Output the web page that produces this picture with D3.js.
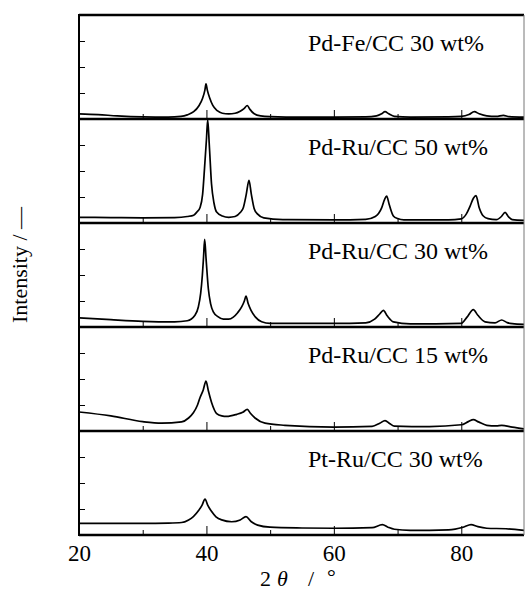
<!DOCTYPE html>
<html>
<head>
<meta charset="utf-8">
<script src="https://cdn.jsdelivr.net/npm/d3@7"></script>
<style>
  html, body { margin: 0; padding: 0; background: #fff; }
  svg { display: block; font-family: "Liberation Serif", "Times New Roman", serif; }
  .trace { fill: none; stroke: #000; stroke-width: 1.7; stroke-linejoin: round; }
  .tick line { stroke: #000; stroke-width: 1; }
  .tick text { font-family: "Liberation Serif", "Times New Roman", serif; font-size: 23px; fill: #000; }
</style>
</head>
<body>
<svg id="xrd" width="525" height="592"></svg>
<script>
// ---- data: [2theta, intensity] (tick units, 0..4 per panel) ----
const pdFe30 = [
  [20,0.2],[23,0.17],[26,0.12],[30,0.08],[34,0.07],[36,0.1],[37,0.16],[38,0.28],[38.8,0.5],
  [39.4,0.8],[39.75,1.1],[39.93,1.35],[40.15,1.1],[40.5,0.82],[41,0.52],[41.7,0.32],[42.5,0.22],
  [43.5,0.2],[44.5,0.22],[45.3,0.3],[45.9,0.4],[46.42,0.52],[46.8,0.38],[47.5,0.2],[48.5,0.12],
  [50,0.09],[55,0.07],[60,0.07],[65,0.08],[66.7,0.12],[67.5,0.2],[68.03,0.28],[68.6,0.2],
  [69.5,0.1],[72,0.07],[78,0.08],[80,0.1],[81.2,0.17],[82.05,0.28],[82.8,0.2],[84,0.12],
  [85.5,0.1],[86.6,0.14],[87.5,0.09],[90,0.07]
];
const pdRu50 = [
  [20,0.22],[25,0.21],[30,0.2],[35,0.21],[37,0.25],[38,0.3],[38.5,0.42],[39,0.6],[39.4,1.1],
  [39.7,2.1],[40,3.2],[40.2,3.97],[40.45,3.0],[40.8,1.5],[41.2,0.75],[41.6,0.42],[42.5,0.27],
  [43.5,0.22],[44.5,0.25],[45.3,0.4],[45.8,0.6],[46.25,1.1],[46.68,1.64],[47.05,1.1],[47.5,0.55],
  [48,0.35],[49,0.2],[52,0.13],[60,0.12],[65,0.14],[66.5,0.25],[67.5,0.58],[67.95,0.9],
  [68.29,1.03],[68.7,0.7],[69.34,0.27],[70,0.17],[71,0.12],[78,0.12],[80,0.16],[80.8,0.35],
  [81.37,0.64],[81.9,0.95],[82.31,1.05],[82.8,0.6],[83.46,0.27],[84.2,0.17],[85.5,0.13],
  [86.3,0.25],[86.87,0.41],[87.4,0.24],[88,0.13],[90,0.1]
];
const pdRu30 = [
  [20,0.35],[25,0.28],[30,0.22],[35,0.2],[37,0.24],[38.2,0.45],[38.73,0.77],[39.1,1.3],[39.36,1.99],
  [39.55,2.7],[39.72,3.37],[39.95,2.6],[40.3,1.47],[40.65,0.9],[41.08,0.58],[41.8,0.4],[42.65,0.3],
  [43.5,0.3],[44.22,0.38],[44.9,0.55],[45.53,0.77],[45.95,1.0],[46.21,1.19],[46.55,0.9],[47,0.64],
  [47.7,0.38],[48.67,0.2],[50,0.14],[60,0.14],[65,0.16],[66.4,0.3],[67.2,0.5],[67.77,0.64],
  [68.4,0.42],[69.34,0.2],[72,0.12],[80,0.14],[80.9,0.38],[81.89,0.67],[82.6,0.45],[83.73,0.2],
  [85.3,0.16],[86.34,0.27],[87.2,0.17],[88,0.13],[90,0.1]
];
const pdRu15 = [
  [20,0.73],[25,0.58],[30,0.36],[32.97,0.3],[36.1,0.35],[37.2,0.5],[37.95,0.7],[38.6,1.0],
  [38.99,1.28],[39.5,1.58],[39.93,1.92],[40.3,1.55],[40.82,1.09],[41.61,0.67],[42.4,0.58],
  [43.18,0.56],[44.75,0.64],[45.7,0.72],[46.42,0.83],[46.9,0.68],[47.63,0.5],[49.19,0.3],
  [52.33,0.22],[60,0.15],[66,0.18],[67.2,0.3],[68.03,0.4],[68.8,0.28],[69.5,0.19],[75,0.17],
  [80,0.24],[81.1,0.36],[81.89,0.44],[82.7,0.35],[84,0.22],[85.5,0.2],[86.34,0.22],[88,0.15],
  [90,0.08]
];
const ptRu30 = [
  [20,0.45],[25,0.45],[30,0.45],[34,0.46],[36.1,0.48],[37.2,0.58],[37.95,0.71],[38.8,0.95],
  [39.3,1.14],[39.78,1.38],[40.2,1.15],[40.82,0.9],[41.5,0.7],[42.39,0.58],[43.96,0.51],
  [45.3,0.58],[46.21,0.71],[47,0.52],[48.04,0.38],[49.98,0.3],[55,0.27],[60,0.26],[66,0.28],
  [67.61,0.4],[68.5,0.3],[69.5,0.22],[72,0.18],[78,0.2],[80.3,0.3],[81.53,0.4],[82.6,0.32],
  [84,0.26],[87,0.24],[90,0.17]
];
const samples = [pdFe30, pdRu50, pdRu30, pdRu15, ptRu30];
const sampleLabels = ["Pd-Fe/CC 30 wt%", "Pd-Ru/CC 50 wt%", "Pd-Ru/CC 30 wt%", "Pd-Ru/CC 15 wt%", "Pt-Ru/CC 30 wt%"];
const xMajor = [20, 40, 60, 80];
const xMinor = [30, 50, 70];
const yTicks = [1, 2, 3];

// ---- layout ----
const svg = d3.select("#xrd");
const plotL = 79, plotR = 524, plotT = 15, panelH = 104;
const plotB = plotT + panelH * samples.length;
const serif = '"Liberation Serif", "Times New Roman", serif';

const x = d3.scaleLinear().domain([20, 90]).range([plotL, 525]);
const y = d3.scaleLinear().domain([0, 4]).range([panelH, 0]);

svg.append("defs").append("clipPath").attr("id", "panelClip")
  .append("rect").attr("x", plotL).attr("y", 0).attr("width", plotR - plotL).attr("height", panelH);

const line = d3.line().x(d => x(d[0])).y(d => y(d[1])).curve(d3.curveMonotoneX);

samples.forEach((s, i) => {
  const g = svg.append("g").attr("transform", `translate(0,${plotT + i * panelH})`);

  // inward ticks on bottom edge
  g.append("g").attr("transform", `translate(0,${panelH})`)
    .call(d3.axisTop(x).tickValues(xMajor).tickSize(9).tickFormat(""))
    .call(a => a.select(".domain").remove());
  g.append("g").attr("transform", `translate(0,${panelH})`)
    .call(d3.axisTop(x).tickValues(xMinor).tickSize(5).tickFormat(""))
    .call(a => a.select(".domain").remove());

  // inward ticks on left edge
  g.append("g").attr("transform", `translate(${plotL},0)`)
    .call(d3.axisRight(y).tickValues(yTicks).tickSize(6).tickFormat(""))
    .call(a => a.select(".domain").remove());

  g.append("path").datum(s).attr("class", "trace")
    .attr("clip-path", "url(#panelClip)")
    .attr("d", line);

  g.append("text").attr("x", 308).attr("y", 36)
    .attr("font-size", 24).text(sampleLabels[i]);

  // panel separator
  g.append("line").attr("x1", plotL).attr("x2", plotR)
    .attr("y1", panelH).attr("y2", panelH)
    .attr("stroke", "#000").attr("stroke-width", 2.5);
});

// frame
svg.append("line").attr("x1", plotL).attr("x2", plotR).attr("y1", plotT).attr("y2", plotT)
  .attr("stroke", "#000").attr("stroke-width", 2.5);
svg.append("line").attr("x1", plotL).attr("x2", plotL).attr("y1", plotT - 1).attr("y2", plotB + 1)
  .attr("stroke", "#000").attr("stroke-width", 2);
svg.append("line").attr("x1", plotR).attr("x2", plotR).attr("y1", plotT).attr("y2", plotB)
  .attr("stroke", "#777").attr("stroke-width", 1);

// x tick labels
svg.append("g").attr("transform", `translate(0,${plotB})`)
  .call(d3.axisBottom(x).tickValues(xMajor).tickSize(0).tickPadding(10))
  .call(a => a.select(".domain").remove())
  .attr("font-family", serif).attr("font-size", 23);

// axis titles
const xt = svg.append("text").attr("y", 586).attr("font-size", 22);
xt.append("tspan").attr("x", 260).text("2");
xt.append("tspan").attr("x", 277).attr("font-style", "italic").text("θ");
xt.append("tspan").attr("x", 308).text("/");
xt.append("tspan").attr("x", 327).attr("dy", -2).text("°");

svg.append("text")
  .attr("transform", "translate(27,265) rotate(-90)")
  .attr("text-anchor", "middle").attr("font-size", 22)
  .text("Intensity / —");
</script>
</body>
</html>
